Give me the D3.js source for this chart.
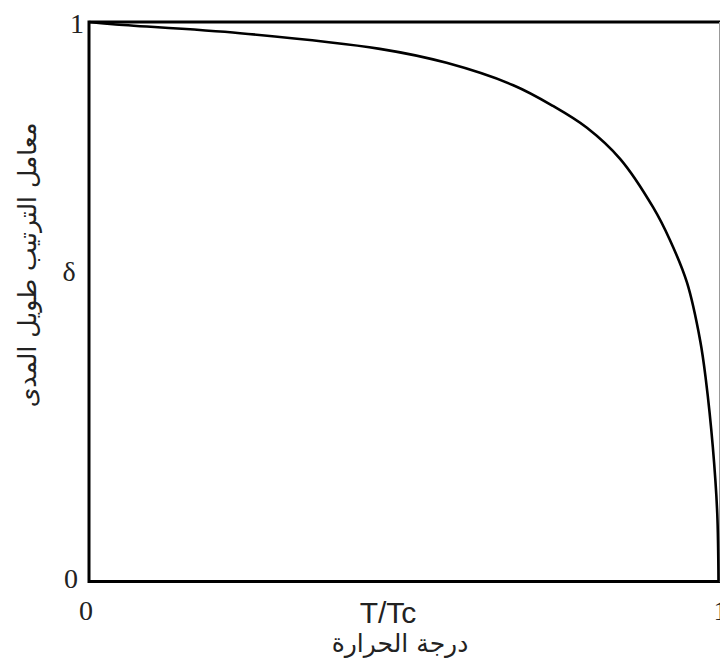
<!DOCTYPE html>
<html>
<head>
<meta charset="utf-8">
<script src="https://cdn.jsdelivr.net/npm/d3@7"></script>
<style>
  body { margin: 0; background: #fff; }
</style>
</head>
<body>
<div id="chart"></div>
<script>
// order parameter vs reduced temperature
var tRatio = [0, 0.038, 0.24, 0.462, 0.568, 0.674, 0.737, 0.791, 0.844, 0.896, 0.923, 0.95, 0.971, 0.98, 0.991, 0.998, 1.0];
var delta  = [1, 0.996, 0.98, 0.952, 0.927, 0.887, 0.85, 0.811, 0.755, 0.669, 0.61, 0.534, 0.43, 0.36, 0.24, 0.122, 0];
var xTicks = [0, 1];
var yTicks = [0, 1];
var xTitle = "T/Tc";
var xTitleAr = "درجة الحرارة";
var yTitleAr = "معامل الترتيب طويل المدى";
var ySymbol = "δ";

var W = 720, H = 670;
var margin = { top: 22, left: 89, right: 1, bottom: 89 };

var svg = d3.select("#chart").append("svg")
    .attr("width", W)
    .attr("height", H);

var x = d3.scaleLinear().domain([0, 1]).range([margin.left, 718.5]);
var y = d3.scaleLinear().domain([0, 1]).range([H - margin.bottom + 0.5, margin.top]);

// frame
svg.append("rect")
    .attr("x", margin.left)
    .attr("y", margin.top)
    .attr("width", 721 - margin.left)
    .attr("height", y(0) - margin.top)
    .style("fill", "none")
    .style("stroke", "#000")
    .style("stroke-width", 3);

svg.append("line")
    .attr("x1", 719.5).attr("x2", 719.5)
    .attr("y1", margin.top).attr("y2", y(0))
    .style("stroke", "#999")
    .style("stroke-width", 1);

// curve
var pts = tRatio.map(function(d, i) { return [d, delta[i]]; });
var line = d3.line()
    .x(function(d) { return x(d[0]); })
    .y(function(d) { return y(d[1]); })
    .curve(d3.curveCatmullRom.alpha(0.5));

svg.append("path")
    .datum(pts)
    .attr("d", line)
    .style("fill", "none")
    .style("stroke", "#000")
    .style("stroke-width", 2.6);

// tick labels
var serif = "'Liberation Serif', 'Times New Roman', serif";
svg.selectAll(".ytick")
  .data(yTicks)
  .enter().append("text")
    .attr("class", "ytick")
    .attr("x", function(d) { return d === 1 ? 77 : 71; })
    .attr("y", function(d) { return d === 1 ? y(d) + 11 : y(d) + 6; })
    .style("text-anchor", "middle")
    .style("font-family", serif)
    .style("font-size", "28px")
    .style("fill", "#222")
    .text(function(d) { return d; });

svg.selectAll(".xtick")
  .data(xTicks)
  .enter().append("text")
    .attr("class", "xtick")
    .attr("x", function(d) { return d === 0 ? x(d) - 3 : x(d) + 2; })
    .attr("y", y(0) + 38)
    .style("text-anchor", "middle")
    .style("font-family", serif)
    .style("font-size", "28px")
    .style("fill", "#222")
    .text(function(d) { return d; });

// axis titles
svg.append("text")
    .attr("x", 388)
    .attr("y", 623)
    .style("text-anchor", "middle")
    .style("font-family", "'Liberation Sans', Arial, sans-serif")
    .style("font-size", "30px")
    .style("fill", "#222")
    .text(xTitle);

svg.append("text")
    .attr("x", 400)
    .attr("y", 652)
    .attr("direction", "rtl")
    .style("text-anchor", "middle")
    .style("font-family", "'DejaVu Sans', sans-serif")
    .style("font-size", "25px")
    .style("fill", "#222")
    .text(xTitleAr);

svg.append("text")
    .attr("transform", "translate(36,265) rotate(-90)")
    .attr("direction", "rtl")
    .style("text-anchor", "middle")
    .style("font-family", "'DejaVu Sans', sans-serif")
    .style("font-size", "25px")
    .style("fill", "#222")
    .text(yTitleAr);

svg.append("text")
    .attr("x", 69)
    .attr("y", 281)
    .style("text-anchor", "middle")
    .style("font-family", serif)
    .style("font-size", "28px")
    .style("fill", "#222")
    .text(ySymbol);
</script>
</body>
</html>
